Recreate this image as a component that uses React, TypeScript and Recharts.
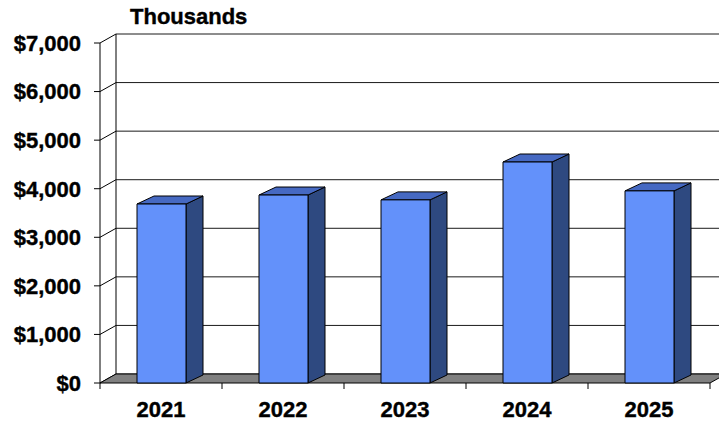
import React from 'react';
import { BarChart, Bar, XAxis, YAxis, CartesianGrid, ReferenceArea } from 'recharts';

const years = ['2021', '2022', '2023', '2024', '2025'];
const revenue = [3685, 3870, 3770, 4550, 3955];
const yTicks = [0, 1000, 2000, 3000, 4000, 5000, 6000, 7000];
const yMax = 7000;

const data = years.map((year, i) => ({ year, revenue: revenue[i] }));

const FONT = '"Liberation Sans", Arial, sans-serif';
// wall depth offset and bar depth offset
const WALL_DX = 16;
const WALL_DY = -9;
const BAR_DX = 17;
const BAR_DY = -8;

const labelStyle = {
  fill: '#000',
  fontSize: 22,
  fontWeight: 'bold',
  fontFamily: FONT,
  stroke: '#000',
  strokeWidth: 0.4,
};

const fmt = (v: number) => '$' + v.toLocaleString('en-US');

// back-wall gridlines plus the slanted connector from the front axis
const GridLine = (props: any) => {
  const { x1, y1, x2 } = props;
  return (
    <g>
      <line x1={x1 + WALL_DX} y1={y1 + WALL_DY} x2={x2 + WALL_DX} y2={y1 + WALL_DY} stroke="#1a1a1a" strokeWidth={1} />
      <line x1={x1} y1={y1} x2={x1 + WALL_DX} y2={y1 + WALL_DY} stroke="#000" strokeWidth={1} />
    </g>
  );
};

// floor, side wall edge, category ticks and the "Thousands" unit label
const Frame = (props: any) => {
  const { x, y, width, height } = props;
  const bottom = y + height;
  const right = x + width;
  const n = years.length;
  return (
    <g>
      <line x1={x + WALL_DX} y1={y + WALL_DY} x2={x + WALL_DX} y2={bottom + WALL_DY} stroke="#000" />
      <polygon
        points={`${x},${bottom} ${right},${bottom} ${right + WALL_DX},${bottom + WALL_DY} ${x + WALL_DX},${bottom + WALL_DY}`}
        fill="#808080"
        stroke="#000"
        strokeWidth={1}
      />
      {Array.from({ length: n + 1 }).map((_, i) => {
        const tx = x + (i * width) / n;
        return <line key={i} x1={tx} y1={bottom} x2={tx} y2={bottom + 6} stroke="#000" />;
      })}
      <text x={130} y={24} fontFamily={FONT} fontWeight="bold" fontSize={22} fill="#000" stroke="#000" strokeWidth={0.4}>
        Thousands
      </text>
    </g>
  );
};

const Bar3D = (props: any) => {
  const { x, y, width, height } = props;
  if (width == null || height == null) return null;
  const r = x + width;
  const b = y + height;
  return (
    <g stroke="#000" strokeWidth={1} strokeLinejoin="round">
      <polygon points={`${r},${y} ${r + BAR_DX},${y + BAR_DY} ${r + BAR_DX},${b + BAR_DY} ${r},${b}`} fill="#2E4980" />
      <polygon points={`${x},${y} ${x + BAR_DX},${y + BAR_DY} ${r + BAR_DX},${y + BAR_DY} ${r},${y}`} fill="#4669C2" />
      <rect x={x} y={y} width={width} height={height} fill="#6391FA" />
    </g>
  );
};

export default function App() {
  return (
    <div style={{ position: 'absolute', left: 0, top: 0, background: '#fff' }}>
      <BarChart
        width={719}
        height={423}
        data={data}
        margin={{ top: 43, right: 9, left: 0, bottom: 0 }}
      >
        <CartesianGrid vertical={false} horizontal={GridLine} />
        <XAxis
          dataKey="year"
          height={40}
          axisLine={false}
          tickLine={false}
          tickSize={0}
          tickMargin={18}
          tick={labelStyle}
        />
        <YAxis
          width={100}
          domain={[0, yMax]}
          ticks={yTicks}
          tickFormatter={fmt}
          axisLine={{ stroke: '#000' }}
          tickLine={{ stroke: '#000' }}
          tickSize={6}
          tickMargin={13}
          interval={0}
          tick={labelStyle}
        />
        <ReferenceArea y1={0} y2={yMax} shape={<Frame />} fill="none" stroke="none" />
        <Bar dataKey="revenue" barSize={49} shape={<Bar3D />} isAnimationActive={false} />
      </BarChart>
    </div>
  );
}
